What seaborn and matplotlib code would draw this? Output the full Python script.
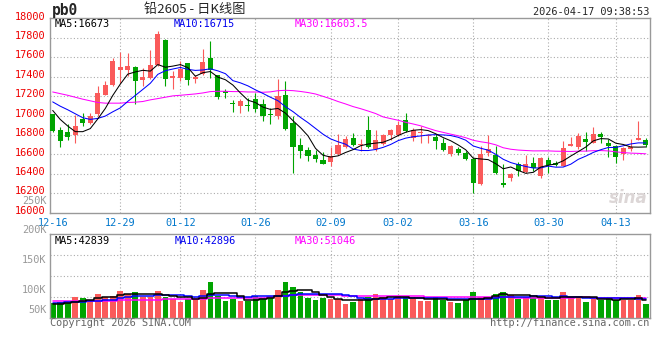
import numpy as np
import pandas as pd
import matplotlib
matplotlib.use('Agg')
import matplotlib.pyplot as plt
import matplotlib.transforms as mtrans
import seaborn as sns

# pb0 daily K, 80 sessions 2025-12-16 .. 2026-04-17
opens = [17011, 16848, 16834, 16800, 16967, 16923, 17018, 17215, 17310, 17467,
         17463, 17500, 17365, 17385, 17521, 17776, 17382, 17382, 17542, 17375,
         17426, 17596, 17412, 17253, 17127, 17100, 17106, 17174, 17123, 17011,
         16994, 17208, 16919, 16695, 16644, 16596, 16542, 16525, 16603, 16671,
         16773, 16698, 16855, 16654, 16705, 16800, 16800, 16950, 16773, 16824,
         16790, 16780, 16715, 16603, 16651, 16613, 16552, 16297, 16617, 16593,
         16307, 16358, 16501, 16420, 16511, 16382, 16542, 16511, 16484, 16688,
         16678, 16756, 16712, 16814, 16719, 16688, 16603, 16654, 16749, 16753]
closes = [16841, 16739, 16780, 16889, 16919, 16998, 17236, 17317, 17562, 17501,
          17511, 17351, 17399, 17521, 17837, 17375, 17409, 17477, 17365, 17395,
          17555, 17470, 17188, 17232, 17120, 17147, 17100, 17066, 16998, 17001,
          17198, 16858, 16678, 16637, 16583, 16552, 16505, 16586, 16698, 16756,
          16698, 16708, 16671, 16746, 16800, 16848, 16902, 16841, 16848, 16834,
          16800, 16739, 16644, 16685, 16617, 16552, 16307, 16603, 16651, 16409,
          16290, 16399, 16426, 16501, 16460, 16562, 16494, 16491, 16664, 16705,
          16790, 16729, 16807, 16780, 16688, 16569, 16664, 16678, 16773, 16698]
highs = [17015, 16882, 16916, 17004, 17028, 17025, 17307, 17351, 17596, 17650,
         17644, 17508, 17487, 17677, 17868, 17786, 17453, 17562, 17542, 17419,
         17684, 17766, 17419, 17276, 17164, 17168, 17181, 17229, 17174, 17079,
         17378, 17358, 17000, 16766, 16678, 16644, 16620, 16678, 16807, 16790,
         16824, 16756, 16994, 16848, 16807, 16858, 16943, 17021, 16875, 16892,
         16807, 16814, 16766, 16692, 16678, 16630, 16576, 16685, 16800, 16687,
         16500, 16409, 16525, 16593, 16575, 16576, 16570, 16535, 16739, 16780,
         16824, 16834, 16882, 16831, 16763, 16698, 16678, 16756, 16940, 16773]
lows = [16835, 16678, 16746, 16712, 16892, 16916, 16994, 17208, 17304, 17331,
        17406, 17120, 17300, 17378, 17514, 17307, 17273, 17351, 17317, 17331,
        17419, 17385, 17168, 17181, 17035, 17025, 17045, 17038, 16943, 16916,
        16960, 16848, 16406, 16562, 16535, 16522, 16501, 16484, 16596, 16664,
        16691, 16637, 16664, 16637, 16698, 16746, 16790, 16834, 16739, 16712,
        16712, 16653, 16637, 16583, 16596, 16542, 16198, 16290, 16586, 16399,
        16263, 16324, 16375, 16413, 16433, 16359, 16409, 16477, 16477, 16685,
        16654, 16637, 16712, 16712, 16576, 16511, 16542, 16637, 16746, 16671]
# volume in K (as read against the lower panel's labels)
volumes = [78.0, 80.7, 78.0, 88.2, 86.5, 83.6, 93.8, 88.2, 90.4, 98.8,
           93.8, 97.1, 88.2, 88.2, 98.8, 88.2, 85.3, 80.7, 84.8, 84.8,
           100.5, 114.0, 90.4, 81.9, 84.8, 81.9, 81.9, 90.4, 87.5, 88.2,
           100.5, 114.0, 105.1, 96.0, 87.5, 83.6, 87.5, 85.3, 85.3, 76.9,
           80.7, 85.3, 88.2, 93.8, 88.2, 85.3, 90.4, 88.2, 85.3, 82.4,
           82.4, 88.2, 83.6, 80.7, 79.1, 83.6, 96.0, 88.2, 88.2, 93.8,
           97.1, 92.1, 85.8, 88.2, 88.2, 88.2, 83.6, 83.6, 97.1, 88.2,
           88.2, 80.7, 85.3, 83.6, 87.0, 83.6, 83.6, 83.6, 92.1, 76.9]

# MA values at the start need sessions before the window ->
ma5_head = [17052, 16960, 16892, 16834]
ma10_head = [17140, 17096, 17059, 17018, 16977, 16960, 16970, 16994, 17038]
ma30_head = [17242, 17225, 17208, 17188, 17168, 17151, 17134, 17127, 17127, 17127,
             17134, 17137, 17144, 17161, 17174, 17188, 17202, 17208, 17215, 17222,
             17232, 17246, 17249, 17249, 17246, 17246, 17242, 17242, 17239]
vma5_head = [76.4, 76.9, 78.0, 80.2]
vma10_head = [79.1, 79.1, 79.6, 80.2, 80.7, 81.3, 81.9, 83.0, 83.6]
vma30_head = [81.9] * 4 + [82.4] * 5 + [83.6] * 6 + [84.8] * 6 + [86.5] * 8

tick_idx = [0, 9, 17, 27, 37, 46, 56, 66, 75]
tick_lab = ['12-16', '12-29', '01-12', '01-26', '02-09', '03-02', '03-16', '03-30', '04-13']
price_ticks = list(range(16000, 18001, 200))
vol_labels = ['250K', '200K', '150K', '100K', '50K']
vol_label_pos = [250, 200, 150, 100, 67]

RED = '#fa5a5a'
GREEN = '#00a400'
GRID = '#ababab'
FRAME = '#999999'


def ma(vals, n, head):
    s = pd.Series(vals, dtype=float).rolling(n).mean()
    s.iloc[:n - 1] = head
    return s.values


df = pd.DataFrame({'open': opens, 'close': closes, 'high': highs, 'low': lows, 'vol': volumes})
df['i'] = np.arange(len(df))
df['dir'] = np.where(df.close >= df.open, 'up', 'down')
cols = np.where(df.dir == 'up', RED, GREEN)

sns.set_style('white')
plt.rcParams['font.family'] = ['DejaVu Sans Mono', 'Noto Sans CJK SC']

fig = plt.figure(figsize=(6.6, 3.6), dpi=100)
W, H = 660, 360
ax1 = fig.add_axes([50 / W, 1 - 212.7 / H, 599.5 / W, 194.4 / H])
ax2 = fig.add_axes([50 / W, 1 - 317.7 / H, 599.5 / W, 83.4 / H])

dots = (0, (1, 2))

# ---- price panel
ax1.vlines(df.i, df.low, df.high, colors=cols, lw=0.8, zorder=2)
body_lo = np.minimum(df.open, df.close)
body_h = np.maximum((df.close - df.open).abs(), 10)
ax1.bar(df.i, body_h, bottom=body_lo, width=0.68, color=cols, linewidth=0, zorder=3)

sns.lineplot(x=df.i, y=ma(closes, 30, ma30_head), color='#ff00ff', lw=0.75, ax=ax1, zorder=4)
sns.lineplot(x=df.i, y=ma(closes, 10, ma10_head), color='#0000ff', lw=0.75, ax=ax1, zorder=4)
sns.lineplot(x=df.i, y=ma(closes, 5, ma5_head), color='black', lw=0.75, ax=ax1, zorder=4)

ax1.set_xlim(-0.36, 79.48)
ax1.set_ylim(16000, 18000)
for y in price_ticks[1:-1]:
    ax1.axhline(y, color=GRID, lw=0.8, ls=dots, zorder=0.5)
for x in tick_idx[1:]:
    ax1.axvline(x, color=GRID, lw=0.8, ls=dots, zorder=0.5)

ax1.set_yticks(price_ticks)
ax1.set_yticklabels([str(v) for v in price_ticks], color='#ee0000', fontsize=7.4)
ax1.set_xticks(tick_idx)
ax1.set_xticklabels(tick_lab, color='#0077cc', fontsize=7.4)
ax1.tick_params(axis='both', length=0)
ax1.tick_params(axis='y', pad=3)
ax1.tick_params(axis='x', pad=3.5)
up2 = mtrans.ScaledTranslation(0, 2 / 72, fig.dpi_scale_trans)
for lab in ax1.get_yticklabels():
    lab.set_transform(lab.get_transform() + up2)
ax1.set_xlabel('')
ax1.set_ylabel('')

ax1.text(0.008, 0.997, 'MA5:16673', transform=ax1.transAxes, color='black', fontsize=7.4, va='top')
ax1.text(0.207, 0.997, 'MA10:16715', transform=ax1.transAxes, color='#0000ee', fontsize=7.4, va='top')
ax1.text(0.408, 0.997, 'MA30:16603.5', transform=ax1.transAxes, color='#ff00ff', fontsize=7.4, va='top')
ax1.text(0.997, 0.03, 'sina', transform=ax1.transAxes, color='#dcd6d6', fontsize=12,
         fontweight='bold', style='italic', ha='right', va='bottom', family='DejaVu Sans')

# ---- volume panel
sns.barplot(data=df, x='i', y='vol', hue='dir', palette={'up': RED, 'down': GREEN},
            native_scale=True, dodge=False, width=0.75, saturation=1, linewidth=0,
            errorbar=None, legend=False, ax=ax2, zorder=2)
for vals, n, head, c in [(volumes, 30, vma30_head, '#ff00ff'), (volumes, 10, vma10_head, '#0000ff'),
                         (volumes, 5, vma5_head, 'black')]:
    sns.lineplot(x=df.i, y=ma(vals, n, head), color=c, lw=1.1, drawstyle='steps-mid', ax=ax2, zorder=4)

vlo, vhi = 53.7, 193.4
ax2.set_xlim(-0.36, 79.48)
ax2.set_ylim(vlo, vhi)
for k in (1, 2, 3):
    ax2.axhline(vlo + k * (vhi - vlo) / 4, color=GRID, lw=0.8, ls=dots, zorder=0.5)
for x in tick_idx[1:]:
    ax2.axvline(x, color=GRID, lw=0.8, ls=dots, zorder=0.5)
ax2.set_xticks([])
ax2.set_yticks([])
ax2.set_xlabel('')
ax2.set_ylabel('')
for lab, pos in zip(vol_labels, vol_label_pos):
    ax2.text(-0.006, pos, lab, transform=ax2.get_yaxis_transform(), ha='right', va='center',
             color='#999999', fontsize=7.4, clip_on=False)

ax2.text(0.008, 0.985, 'MA5:42839', transform=ax2.transAxes, color='black', fontsize=7.4, va='top')
ax2.text(0.208, 0.985, 'MA10:42896', transform=ax2.transAxes, color='#0000ee', fontsize=7.4, va='top')
ax2.text(0.408, 0.985, 'MA30:51046', transform=ax2.transAxes, color='#ff00ff', fontsize=7.4, va='top')

for ax in (ax1, ax2):
    for sp in ax.spines.values():
        sp.set_color(FRAME)
        sp.set_linewidth(1)
        sp.set_visible(True)

# ---- header / footer
fig.text(52 / W, 1 - 10 / H, 'pb0', fontsize=10.5, fontweight='bold', va='center', ha='left')
fig.text(195 / W, 1 - 10 / H, '铅2605 - 日K线图', fontsize=9.5, va='center', ha='center',
         family=['Noto Sans CJK SC', 'DejaVu Sans'])
fig.text(649 / W, 1 - 12 / H, '2026-04-17 09:38:53', fontsize=7.4, va='center', ha='right')
fig.text(50 / W, 1 - 323.5 / H, 'Copyright 2026 SINA.COM', fontsize=7.4, color='#666666', va='center', ha='left')
fig.text(649 / W, 1 - 323.5 / H, 'http://finance.sina.com.cn', fontsize=7.4, color='#666666', va='center', ha='right')

fig.savefig('out.png', dpi=100, facecolor='white')
